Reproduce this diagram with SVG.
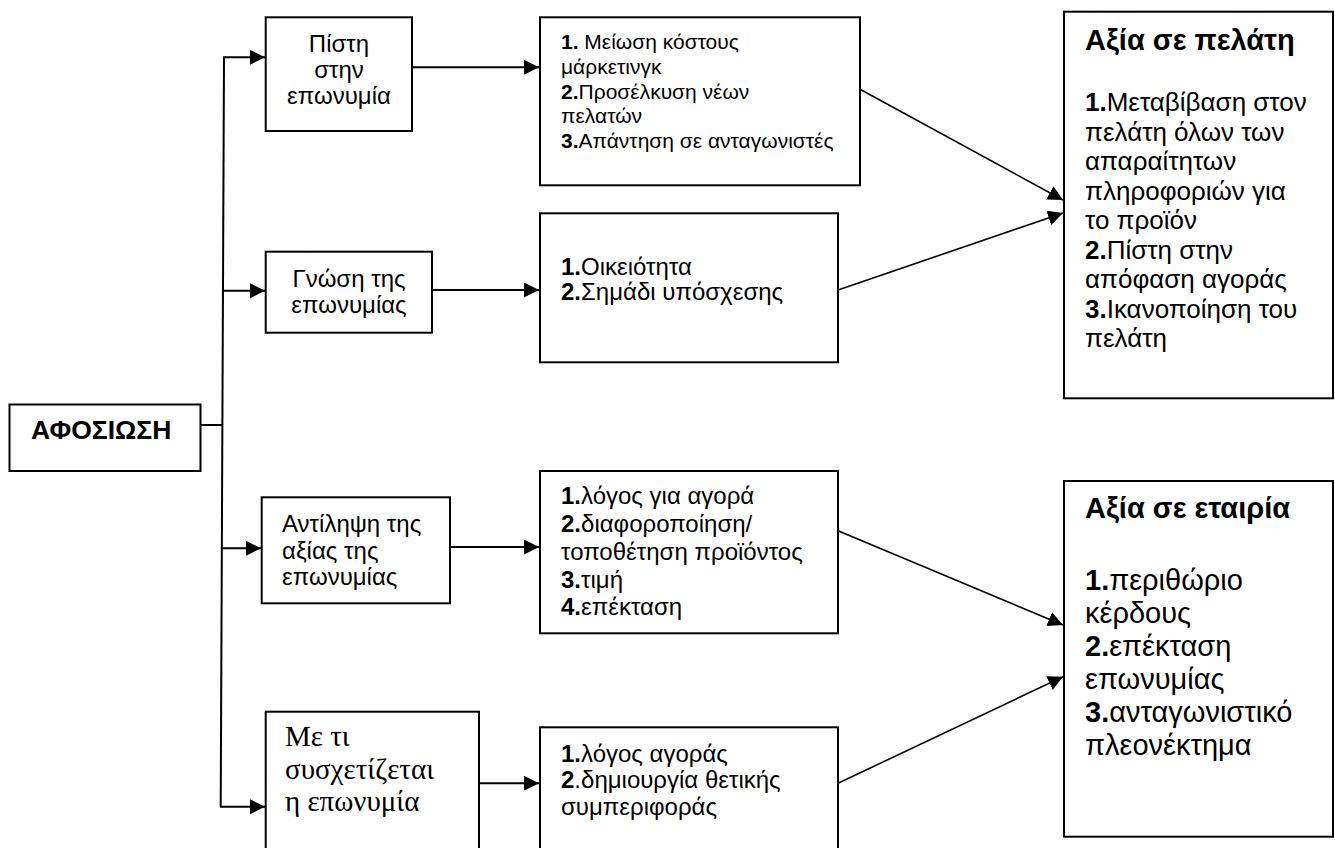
<svg xmlns="http://www.w3.org/2000/svg" width="1335" height="848" viewBox="0 0 1335 848">
<style>
.box{fill:#fff;stroke:#000;stroke-width:2}
.t{font-family:"Liberation Sans",Arial,sans-serif;fill:#000}
.s{font-family:"Liberation Serif","Times New Roman",serif;fill:#000}
.b{font-weight:bold}
.ln{stroke:#000;stroke-width:2;fill:none}
.dl{stroke:#000;stroke-width:1.6;fill:none}
</style>
<defs>
<marker id="ah" markerUnits="userSpaceOnUse" markerWidth="16" markerHeight="16" refX="15" refY="7.5" orient="auto">
<path d="M0,0 L15,7.5 L0,15 z" fill="#000"/>
</marker>
</defs>
<rect width="1335" height="848" fill="#fff"/>

<g id="connectors">
<line class="ln" x1="201" y1="425" x2="222" y2="425"/>
<line class="ln" x1="224" y1="57" x2="220.7" y2="807"/>
<line class="ln" x1="223" y1="57.3" x2="265" y2="57.3" marker-end="url(#ah)"/>
<line class="ln" x1="222" y1="290.7" x2="265" y2="290.7" marker-end="url(#ah)"/>
<line class="ln" x1="221" y1="548.3" x2="261" y2="548.3" marker-end="url(#ah)"/>
<line class="ln" x1="220" y1="806.7" x2="265" y2="806.7" marker-end="url(#ah)"/>
<line class="ln" x1="413" y1="67.3" x2="539" y2="67.3" marker-end="url(#ah)"/>
<line class="ln" x1="433" y1="290" x2="539" y2="290" marker-end="url(#ah)"/>
<line class="ln" x1="451" y1="547" x2="539" y2="547" marker-end="url(#ah)"/>
<line class="ln" x1="480" y1="783.3" x2="539" y2="783.3" marker-end="url(#ah)"/>
<line class="dl" x1="860" y1="89.3" x2="1063" y2="200" marker-end="url(#ah)"/>
<line class="dl" x1="838" y1="290" x2="1063" y2="213" marker-end="url(#ah)"/>
<line class="dl" x1="838" y1="530.7" x2="1063" y2="625" marker-end="url(#ah)"/>
<line class="dl" x1="838" y1="783.3" x2="1063" y2="676.7" marker-end="url(#ah)"/>
</g>

<g id="afosiosi">
<rect class="box" x="9.5" y="404.5" width="191" height="66.5"/>
<text class="t b" x="31" y="439" font-size="26.5">ΑΦΟΣΙΩΣΗ</text>
</g>

<g id="pisti">
<rect class="box" x="265.7" y="17.3" width="146.3" height="113.7"/>
<text class="t" font-size="24" text-anchor="middle"><tspan x="339" y="52">Πίστη</tspan><tspan x="339" y="78">στην</tspan><tspan x="339" y="104">επωνυμία</tspan></text>
</g>

<g id="gnosi">
<rect class="box" x="265.7" y="251.7" width="166.3" height="81"/>
<text class="t" font-size="24" text-anchor="middle"><tspan x="349" y="287">Γνώση της</tspan><tspan x="349" y="313">επωνυμίας</tspan></text>
</g>

<g id="antilipsi">
<rect class="box" x="261.7" y="497.3" width="188.3" height="106"/>
<text class="t" font-size="24"><tspan x="282" y="532">Αντίληψη της</tspan><tspan x="282" y="558.5">αξίας της</tspan><tspan x="282" y="585">επωνυμίας</tspan></text>
</g>

<g id="me-ti">
<rect class="box" x="265.7" y="711.7" width="213.3" height="150"/>
<text class="s" font-size="29"><tspan x="285" y="746">Με τι</tspan><tspan x="285" y="778.5">συσχετίζεται</tspan><tspan x="285" y="811">η επωνυμία</tspan></text>
</g>

<g id="box-marketing">
<rect class="box" x="540" y="17.3" width="320" height="168"/>
<text class="t" font-size="21"><tspan x="561" y="49.3"><tspan font-weight="bold">1.</tspan> Μείωση κόστους</tspan><tspan x="561" y="74">μάρκετινγκ</tspan><tspan x="561" y="98.5"><tspan font-weight="bold">2.</tspan>Προσέλκυση νέων</tspan><tspan x="561" y="123">πελατών</tspan><tspan x="561" y="147.5"><tspan font-weight="bold">3.</tspan>Απάντηση σε ανταγωνιστές</tspan></text>
</g>

<g id="box-oikeiotita">
<rect class="box" x="540" y="213.3" width="298" height="149"/>
<text class="t" font-size="24"><tspan x="561" y="275"><tspan font-weight="bold">1.</tspan>Οικειότητα</tspan><tspan x="561" y="300"><tspan font-weight="bold">2.</tspan>Σημάδι υπόσχεσης</tspan></text>
</g>

<g id="box-logos">
<rect class="box" x="540" y="471" width="298" height="162.3"/>
<text class="t" font-size="24"><tspan x="561" y="503.5"><tspan font-weight="bold">1.</tspan>λόγος για αγορά</tspan><tspan x="561" y="531.5"><tspan font-weight="bold">2.</tspan>διαφοροποίηση/</tspan><tspan x="561" y="559.5">τοποθέτηση προϊόντος</tspan><tspan x="561" y="587.5"><tspan font-weight="bold">3.</tspan>τιμή</tspan><tspan x="561" y="615"><tspan font-weight="bold">4.</tspan>επέκταση</tspan></text>
</g>

<g id="box-logos-agoras">
<rect class="box" x="540" y="727.3" width="298" height="135"/>
<text class="t" font-size="24"><tspan x="561" y="761.7"><tspan font-weight="bold">1.</tspan>λόγος αγοράς</tspan><tspan x="561" y="788.3"><tspan font-weight="bold">2</tspan>.δημιουργία θετικής</tspan><tspan x="561" y="815">συμπεριφοράς</tspan></text>
</g>

<g id="axia-pelati">
<rect class="box" x="1064" y="11.7" width="269" height="386.6"/>
<text class="t b" x="1085" y="50" font-size="29">Αξία σε πελάτη</text>
<text class="t" font-size="26"><tspan x="1085" y="111"><tspan font-weight="bold">1.</tspan>Μεταβίβαση στον</tspan><tspan x="1085" y="140.5">πελάτη όλων των</tspan><tspan x="1085" y="170">απαραίτητων</tspan><tspan x="1085" y="199.5">πληροφοριών για</tspan><tspan x="1085" y="229">το προϊόν</tspan><tspan x="1085" y="258.5"><tspan font-weight="bold">2.</tspan>Πίστη στην</tspan><tspan x="1085" y="288">απόφαση αγοράς</tspan><tspan x="1085" y="317.5"><tspan font-weight="bold">3.</tspan>Ικανοποίηση του</tspan><tspan x="1085" y="347">πελάτη</tspan></text>
</g>

<g id="axia-etairia">
<rect class="box" x="1064" y="481" width="269" height="355.7"/>
<text class="t b" x="1085" y="518.3" font-size="29">Αξία σε εταιρία</text>
<text class="t" font-size="29"><tspan x="1085" y="590"><tspan font-weight="bold">1.</tspan>περιθώριο</tspan><tspan x="1085" y="623">κέρδους</tspan><tspan x="1085" y="656"><tspan font-weight="bold">2.</tspan>επέκταση</tspan><tspan x="1085" y="689">επωνυμίας</tspan><tspan x="1085" y="722"><tspan font-weight="bold">3.</tspan>ανταγωνιστικό</tspan><tspan x="1085" y="755">πλεονέκτημα</tspan></text>
</g>
</svg>
